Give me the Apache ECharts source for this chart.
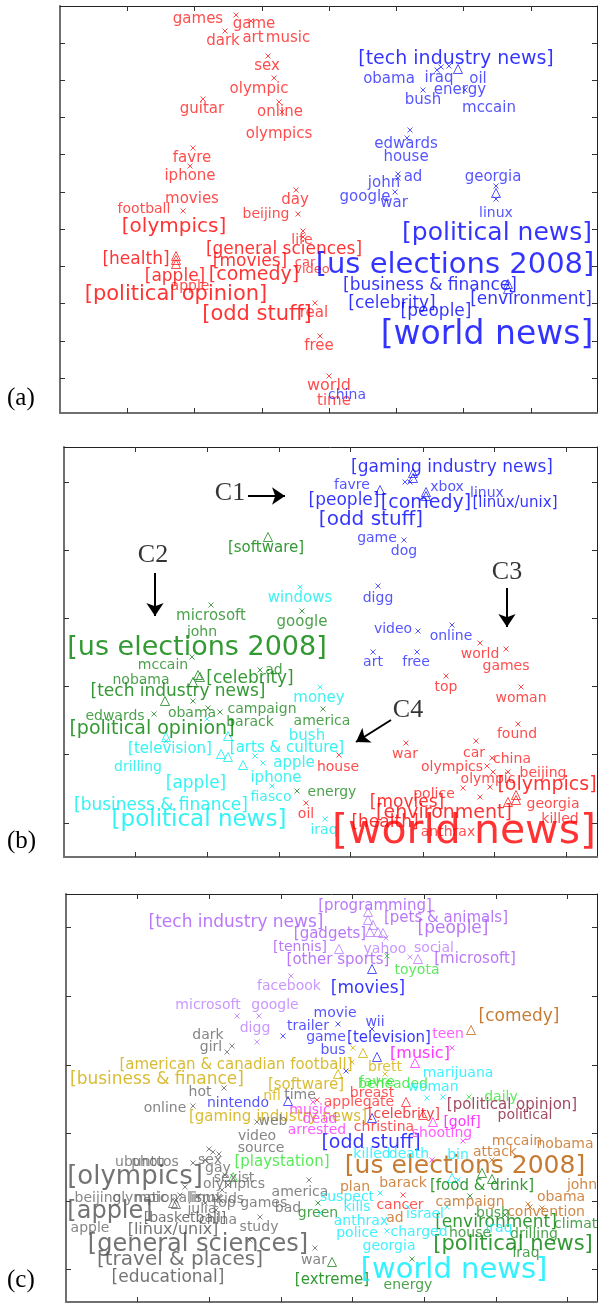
<!DOCTYPE html>
<html>
<head>
<meta charset="utf-8">
<script src="https://cdn.jsdelivr.net/npm/echarts@6/dist/echarts.min.js"></script>
<style>
html,body{margin:0;padding:0;background:#fff}
#main{width:598px;height:1303px}
</style>
</head>
<body>
<div id="main"></div>
<script>
// word embedding maps, 3 panels. values are map coords (x, y), text, weight
// marks: [x, y, 'x' = word, 't' = category]

// ---------- panel (a)
var aRedWords = [
  [198,19,'games',15],[254,24,'game',15],[223,41,'dark',15],[253,38,'art',15],[288,38,'music',15],
  [267,66,'sex',15],[259,89,'olympic',15],[202,109,'guitar',15],[280,112,'online',15],[279,134,'olympics',15],
  [192,158,'favre',15],[190,176,'iphone',15],[192,199,'movies',15],[144,209,'football',14],[295,200,'day',15],
  [266,214,'beijing',14],[302,240,'life',14],[305,263,'car',13],[312,270,'video',13],[190,286,'apple',14],
  [314,313,'real',15],[319,346,'free',15],[329,386,'world',16],[334,401,'time',15]
];
var aRedTags = [
  [174,227,'[olympics]',20],[284,250,'[general sciences]',17],[136,260,'[health]',17],[250,262,'[movies]',17],
  [175,277,'[apple]',17],[254,275,'[comedy]',19],[176,295,'[political opinion]',21],[257,315,'[odd stuff]',21]
];
var aRedMarks = [
  [236,15,'x'],[251,21,'x'],[225,31,'x'],[268,56,'x'],[274,78,'x'],[203,99,'x'],[279,102,'x'],[282,112,'x'],
  [193,148,'x'],[190,166,'x'],[183,211,'x'],[296,190,'x'],[298,214,'x'],[303,231,'x'],[303,237,'x'],
  [176,256,'t'],[176,260,'t'],[176,264,'t'],[315,303,'x'],[320,336,'x'],[329,376,'x']
];
var aBlueWords = [
  [389,79,'obama',15],[439,78,'iraq',15],[478,79,'oil',15],[460,90,'energy',15],[423,100,'bush',15],
  [489,108,'mccain',15],[406,144,'edwards',15],[406,157,'house',15],[413,177,'ad',15],[384,183,'john',15],
  [493,177,'georgia',15],[365,197,'google',15],[394,203,'war',15],[496,213,'linux',14],[347,395,'china',14]
];
var aBlueTags = [
  [456,59,'[tech industry news]',19],[497,233,'[political news]',25],[455,265,'[us elections 2008]',29],
  [430,286,'[business & finance]',17],[392,304,'[celebrity]',17],[436,312,'[people]',17],
  [531,300,'[environment]',17],[487,335,'[world news]',33]
];
var aBlueMarks = [
  [437,70,'x'],[441,67,'x'],[449,66,'x'],[458,69,'t'],[423,90,'x'],[465,90,'x'],[410,130,'x'],[407,138,'x'],
  [398,174,'x'],[398,178,'x'],[496,186,'x'],[496,193,'t'],[496,199,'x'],[395,192,'x'],[508,284,'t'],[508,289,'t']
];

// ---------- panel (b)
var bBlueWords = [
  [352,485,'favre',14],[447,487,'xbox',14],[487,493,'linux',14],[377,538,'game',14],[404,551,'dog',14],
  [378,598,'digg',14],[393,629,'video',14],[451,636,'online',14],[373,662,'art',14],[416,662,'free',14]
];
var bBlueTags = [
  [452,468,'[gaming industry news]',17],[515,503,'[linux/unix]',15],[344,501,'[people]',17],
  [426,503,'[comedy]',19],[371,520,'[odd stuff]',20]
];
var bBlueMarks = [
  [413,473,'t'],[413,478,'t'],[405,482,'x'],[410,482,'x'],[380,490,'t'],[426,492,'t'],[426,496,'t'],
  [404,540,'x'],[378,586,'x'],[418,631,'x'],[452,625,'x'],[373,652,'x'],[417,652,'x']
];
var bGreenWords = [
  [211,616,'microsoft',15],[202,632,'john',14],[302,622,'google',15],[163,665,'mccain',14],[141,680,'nobama',14],
  [274,670,'ad',14],[115,716,'edwards',14],[192,713,'obama',14],[262,709,'campaign',14],[250,722,'barack',14],
  [322,721,'america',14],[332,792,'energy',14]
];
var bGreenTags = [
  [266,548,'[software]',15],[197,648,'[us elections 2008]',27],[250,679,'[celebrity]',17],
  [178,692,'[tech industry news]',17],[152,729,'[political opinion]',19]
];
var bGreenMarks = [
  [268,537,'t'],[211,605,'x'],[302,611,'x'],[192,657,'x'],[198,675,'t'],[200,677,'t'],[193,682,'t'],
  [260,670,'x'],[165,701,'t'],[193,701,'x'],[154,714,'x'],[208,708,'x'],[220,712,'x'],[323,709,'x'],[297,791,'x']
];
var bCyanWords = [
  [300,598,'windows',15],[319,698,'money',15],[307,736,'bush',15],[138,767,'drilling',14],[294,763,'apple',15],
  [276,778,'iphone',15],[271,797,'fiasco',14],[324,830,'iraq',14]
];
var bCyanTags = [
  [287,748,'[arts & culture]',15],[170,749,'[television]',15],[196,784,'[apple]',17],
  [161,806,'[business & finance]',17],[199,820,'[political news]',23]
];
var bCyanMarks = [
  [300,587,'x'],[320,687,'x'],[166,737,'t'],[166,741,'x'],[228,736,'t'],[221,754,'t'],[228,757,'t'],
  [243,765,'t'],[255,756,'x'],[207,719,'x'],[263,763,'x'],[272,786,'x'],[325,819,'x']
];
var bRedWords = [
  [480,654,'world',14],[506,666,'games',14],[446,687,'top',14],[521,698,'woman',14],[517,734,'found',14],
  [338,767,'house',14],[405,754,'war',14],[474,753,'car',14],[512,759,'china',14],[452,767,'olympics',14],
  [543,773,'beijing',14],[488,779,'olympic',14],[434,794,'police',14],[553,804,'georgia',14],
  [560,819,'killed',14],[448,832,'anthrax',14],[306,814,'oil',14]
];
var bRedTags = [
  [547,785,'[olympics]',19],[407,803,'[movies]',17],[444,813,'[environment]',19],[385,823,'[health]',17],
  [464,832,'[world news]',41]
];
var bRedMarks = [
  [480,643,'x'],[506,649,'x'],[446,676,'x'],[521,687,'x'],[518,724,'x'],[339,755,'x'],[406,743,'x'],
  [476,741,'x'],[492,758,'x'],[487,766,'x'],[508,772,'x'],[493,772,'x'],[490,787,'x'],[463,788,'x'],
  [480,797,'x'],[516,795,'t'],[516,800,'t'],[508,802,'t'],[306,803,'x']
];
// cluster callouts: name, text pos, arrow from -> to
var bCallouts = [
  ['C1',230,493,248,496,285,496],
  ['C2',153,555,155,573,155,616],
  ['C3',507,572,507,588,507,627],
  ['C4',408,710,391,720,356,742]
];

// ---------- panel (c)
var cPurpleWords = [
  [289,986,'facebook',14],[208,1005,'microsoft',14],[275,1005,'google',14],[255,1028,'digg',14],
  [385,949,'yahoo',14],[434,948,'social',14]
];
var cPurpleTags = [
  [375,906,'[programming]',15],[446,918,'[pets & animals]',15],[330,934,'[gadgets]',15],[300,947,'[tennis]',14],
  [338,960,'[other sports]',15],[475,959,'[microsoft]',15],[236,923,'[tech industry news]',17],[453,929,'[people]',17]
];
var cPurpleMarks = [
  [368,912,'t'],[368,920,'t'],[373,925,'t'],[370,932,'t'],[378,932,'t'],[383,933,'t'],[386,938,'x'],
  [339,949,'t'],[410,957,'x'],[418,959,'t'],[291,976,'x'],[237,1016,'x'],[259,1016,'x'],[257,1042,'x']
];
var cBlueWords = [
  [335,1013,'movie',14],[308,1026,'trailer',14],[375,1022,'wii',14],[326,1037,'game',14],[333,1050,'bus',14],
  [238,1103,'nintendo',14]
];
var cBlueTags = [
  [368,989,'[movies]',17],[389,1038,'[television]',15],[371,1143,'[odd stuff]',19]
];
var cBlueMarks = [
  [372,969,'t'],[338,1024,'x'],[283,1036,'x'],[372,1029,'x'],[377,1057,'t'],[346,1071,'x'],[288,1101,'t'],[372,1118,'t']
];
var cOrangeWords = [
  [517,1141,'mccain',14],[565,1144,'nobama',14],[495,1152,'attack',14],[403,1183,'barack',14],[355,1187,'plan',14],
  [582,1185,'john',14],[561,1197,'obama',14],[470,1202,'campaign',14],[546,1212,'convention',14],[395,1218,'ad',14]
];
var cOrangeTags = [
  [519,1017,'[comedy]',17],[465,1166,'[us elections 2008]',25]
];
var cOrangeMarks = [
  [471,1030,'t'],[492,1160,'x'],[528,1204,'x'],[530,1207,'x'],[542,1208,'x']
];
var cGreenWords = [
  [318,1213,'green',14],[408,1285,'energy',14],[580,1224,'climate',14],[534,1234,'drilling',14],
  [526,1253,'iraq',14],[470,1233,'house',14],[493,1213,'bush',14]
];
var cGreenTags = [
  [482,1186,'[food & drink]',15],[496,1223,'[environment]',17],[513,1245,'[political news]',21],[332,1280,'[extreme]',15]
];
var cGreenMarks = [
  [332,1262,'t'],[318,1203,'x'],[412,1259,'x'],[482,1173,'t'],[492,1179,'t'],[470,1196,'x'],[505,1215,'x']
];
var cLimeWords = [
  [417,970,'toyota',14],[393,1084,'beheaded',14],[377,1082,'favre',14],[501,1097,'daily',14]
];
var cLimeTags = [[282,1162,'[playstation]',15]];
var cLimeMarks = [[387,956,'x'],[469,1097,'x'],[233,1177,'t']];
var cGoldWords = [[272,1096,'nfl',14],[385,1067,'brett',14]];
var cGoldTags = [
  [236,1065,'[american & canadian football]',15],[157,1080,'[business & finance]',17],
  [306,1085,'[software]',15],[278,1117,'[gaming industry news]',15]
];
var cGoldMarks = [[363,1053,'t'],[338,1074,'t'],[352,1062,'x'],[353,1048,'x'],[385,1074,'x']];
var cGrayWords = [
  [208,1035,'dark',14],[211,1047,'girl',14],[200,1092,'hot',14],[300,1095,'time',14],[165,1108,'online',14],
  [273,1121,'web',14],[257,1136,'video',14],[261,1148,'source',14],[140,1162,'ubuntu',14],[155,1162,'photos',14],
  [210,1160,'sex',14],[218,1168,'gay',14],[234,1178,'sexist',14],[234,1184,'olympics',14],[98,1198,'beijing',14],
  [140,1198,'olympic',14],[175,1198,'nationalism',14],[206,1198,'linux',14],[230,1199,'kids',14],
  [250,1203,'top games',14],[202,1209,'julia',14],[218,1220,'china',14],[90,1228,'apple',14],[259,1227,'study',14],
  [300,1192,'america',14],[288,1208,'bad',14],[314,1260,'war',14]
];
var cGrayTags = [
  [135,1177,'[olympics]',26],[110,1212,'[apple]',24],[185,1218,'[basketball]',14],[173,1230,'[linux/unix]',16],
  [198,1245,'[general sciences]',24],[180,1260,'[travel & places]',20],[168,1278,'[educational]',17]
];
var cGrayMarks = [
  [232,1046,'x'],[227,1052,'x'],[224,1088,'x'],[193,1106,'x'],[257,1122,'x'],[209,1149,'x'],[213,1152,'x'],
  [219,1154,'x'],[205,1160,'x'],[193,1163,'x'],[225,1175,'x'],[228,1185,'x'],[222,1190,'x'],[185,1187,'x'],
  [180,1195,'x'],[176,1200,'x'],[198,1196,'x'],[205,1203,'x'],[216,1210,'x'],[260,1217,'x'],[309,1180,'x'],
  [315,1248,'x'],[250,1240,'x'],[176,1204,'t'],[173,1203,'t']
];
var cRedWords = [[372,1093,'breast',14],[359,1102,'applegate',14],[384,1127,'christina',14],[400,1205,'cancer',14]];
var cRedTags = [[404,1114,'[celebrity]',14]];
var cRedMarks = [[406,1102,'t'],[423,1115,'t'],[403,1195,'x'],[317,1100,'x']];
var cMaroonWords = [[525,1115,'political',14]];
var cMaroonTags = [[512,1105,'[political opinion]',15]];
var cPinkWords = [
  [448,1034,'teen',14],[310,1110,'music',14],[320,1119,'dead',14],[317,1130,'arrested',14],[442,1133,'shooting',14]
];
var cPinkTags = [[420,1054,'[music]',16],[462,1122,'[golf]',14]];
var cPinkMarks = [[452,1048,'x'],[415,1063,'t'],[433,1122,'t'],[463,1141,'x'],[313,1102,'x'],[432,1160,'x']];
var cCyanWords = [
  [458,1073,'marijuana',14],[433,1087,'woman',14],[372,1154,'killed',14],[409,1154,'death',14],[458,1155,'bin',14],
  [347,1197,'suspect',14],[357,1207,'kills',14],[361,1221,'anthrax',14],[425,1214,'israel',14],
  [357,1233,'police',14],[419,1232,'charged',14],[389,1246,'georgia',14],[499,1228,'iraq',14]
];
var cCyanTags = [[454,1270,'[world news]',29]];
var cCyanMarks = [
  [427,1098,'x'],[443,1097,'x'],[387,1231,'x'],[380,1193,'x'],[408,1207,'x'],[447,1207,'x'],
  [452,1178,'t'],[458,1180,'x'],[320,1213,'x']
];

// axis extents + tick positions for each panel
var panelX = [[60,597],[64,597],[66,597]];
var panelY = [[6,413],[447,857],[894,1302]];
var ticksX = [[127,194,262,329,396,463,531],[135,207,279,350,423,494,566],[137,209,281,352,424,496,567]];
var ticksY = [[43,80,117,154,192,229,266,303,341,378],[482,550,618,686,754,823],[927,996,1065,1133,1201,1269]];
var panelNames = ['(a)','(b)','(c)'];

var FONT = 'DejaVu Sans';
var CROSS = 'path://M0,0L10,10M10,0L0,10';

var myChart = echarts.init(document.getElementById('main'), null, {renderer:'canvas'});

var grids = [], xAxes = [], yAxes = [], series = [];

function makeAxis(i, range, ticks, pos, isY) {
  var main = (pos === 'bottom' || pos === 'left');
  var ax = {
    gridIndex: i, type: 'value', position: pos, min: range[0], max: range[1],
    axisLine: {show: true, onZero: false, lineStyle: {color: main ? '#707070' : '#222', width: main ? 2 : 1}},
    axisTick: {show: true, inside: true, length: 5, customValues: ticks, lineStyle: {color: '#333', width: 1}},
    axisLabel: {show: false},
    splitLine: {show: false}
  };
  if (isY) ax.inverse = true;
  return ax;
}

for (var i = 0; i < 3; i++) {
  grids.push({
    left: panelX[i][0], top: panelY[i][0],
    width: panelX[i][1] - panelX[i][0], height: panelY[i][1] - panelY[i][0]
  });
  xAxes.push(makeAxis(i, panelX[i], ticksX[i], 'bottom', false));
  xAxes.push(makeAxis(i, panelX[i], ticksX[i], 'top', false));
  yAxes.push(makeAxis(i, panelY[i], ticksY[i], 'left', true));
  yAxes.push(makeAxis(i, panelY[i], ticksY[i], 'right', true));
}

function marks(p, arr, color) {
  series.push({
    type: 'scatter', xAxisIndex: p * 2, yAxisIndex: p * 2, silent: true, animation: false,
    data: arr,
    symbol: function (v) { return v[2] === 't' ? 'triangle' : CROSS; },
    symbolSize: function (v) { return v[2] === 't' ? 9 : 5; },
    itemStyle: {color: 'rgba(0,0,0,0)', borderColor: color, borderWidth: 1}
  });
}

function words(p, arr, color) {
  series.push({
    type: 'scatter', xAxisIndex: p * 2, yAxisIndex: p * 2, silent: true, animation: false,
    symbolSize: 1, itemStyle: {color: 'rgba(0,0,0,0)'},
    data: arr.map(function (d) {
      return {value: [d[0], d[1]], name: d[2], label: {fontSize: d[3]}};
    }),
    label: {
      show: true, position: 'inside', color: color, fontFamily: FONT,
      formatter: function (q) { return q.name; }
    }
  });
}

function cluster(p, w, t, m, wColor, tColor) {
  if (m) marks(p, m, wColor);
  words(p, w, wColor);
  words(p, t, tColor);
}

// (a)
cluster(0, aRedWords, aRedTags, aRedMarks, '#ff2020', '#ff0000');
cluster(0, aBlueWords, aBlueTags, aBlueMarks, '#2a2aff', '#0000ff');
// (b)
cluster(1, bBlueWords, bBlueTags, bBlueMarks, '#2a2aff', '#0000ff');
cluster(1, bGreenWords, bGreenTags, bGreenMarks, '#1f8a1f', '#008000');
cluster(1, bCyanWords, bCyanTags, bCyanMarks, '#11eeee', '#00f0f0');
cluster(1, bRedWords, bRedTags, bRedMarks, '#ff2020', '#ff0000');
// callouts
series.push({
  type: 'scatter', xAxisIndex: 2, yAxisIndex: 2, silent: true, animation: false,
  symbolSize: 1, itemStyle: {color: 'rgba(0,0,0,0)'},
  data: bCallouts.map(function (c) { return {value: [c[1], c[2]], name: c[0]}; }),
  label: {show: true, position: 'inside', color: '#000', fontFamily: 'Liberation Serif', fontSize: 26,
    formatter: function (q) { return q.name; }},
  markLine: {
    silent: true, animation: false, symbol: ['none', 'arrow'], symbolSize: 13,
    lineStyle: {color: '#000', width: 2, type: 'solid'}, label: {show: false},
    data: bCallouts.map(function (c) { return [{coord: [c[3], c[4]]}, {coord: [c[5], c[6]]}]; })
  }
});
// (c)
cluster(2, cPurpleWords, cPurpleTags, cPurpleMarks, '#bb7dff', '#a855f7');
cluster(2, cBlueWords, cBlueTags, cBlueMarks, '#2a2aff', '#0000ff');
cluster(2, cGoldWords, cGoldTags, cGoldMarks, '#d4b106', '#cfab00');
cluster(2, cGrayWords, cGrayTags, cGrayMarks, '#666666', '#505050');
cluster(2, cLimeWords, cLimeTags, cLimeMarks, '#33e633', '#2ee62e');
cluster(2, cRedWords, cRedTags, cRedMarks, '#ff2b2b', '#ee1111');
cluster(2, cMaroonWords, cMaroonTags, null, '#8b1c3c', '#8b1c3c');
cluster(2, cPinkWords, cPinkTags, cPinkMarks, '#ff33ff', '#ff00ff');
cluster(2, cOrangeWords, cOrangeTags, cOrangeMarks, '#c46a1a', '#b85a00');
cluster(2, cGreenWords, cGreenTags, cGreenMarks, '#1f8a1f', '#008000');
cluster(2, cCyanWords, cCyanTags, cCyanMarks, '#11eeff', '#00eeff');

var option = {
  backgroundColor: '#fff',
  animation: false,
  grid: grids,
  xAxis: xAxes,
  yAxis: yAxes,
  series: series,
  graphic: panelNames.map(function (n, i) {
    return {type: 'text', x: 7, y: [398, 841, 1280][i],
      style: {text: n, fontFamily: 'Liberation Serif', fontSize: 25, fill: '#000', verticalAlign: 'middle'}};
  })
};
myChart.setOption(option);
</script>
</body>
</html>
